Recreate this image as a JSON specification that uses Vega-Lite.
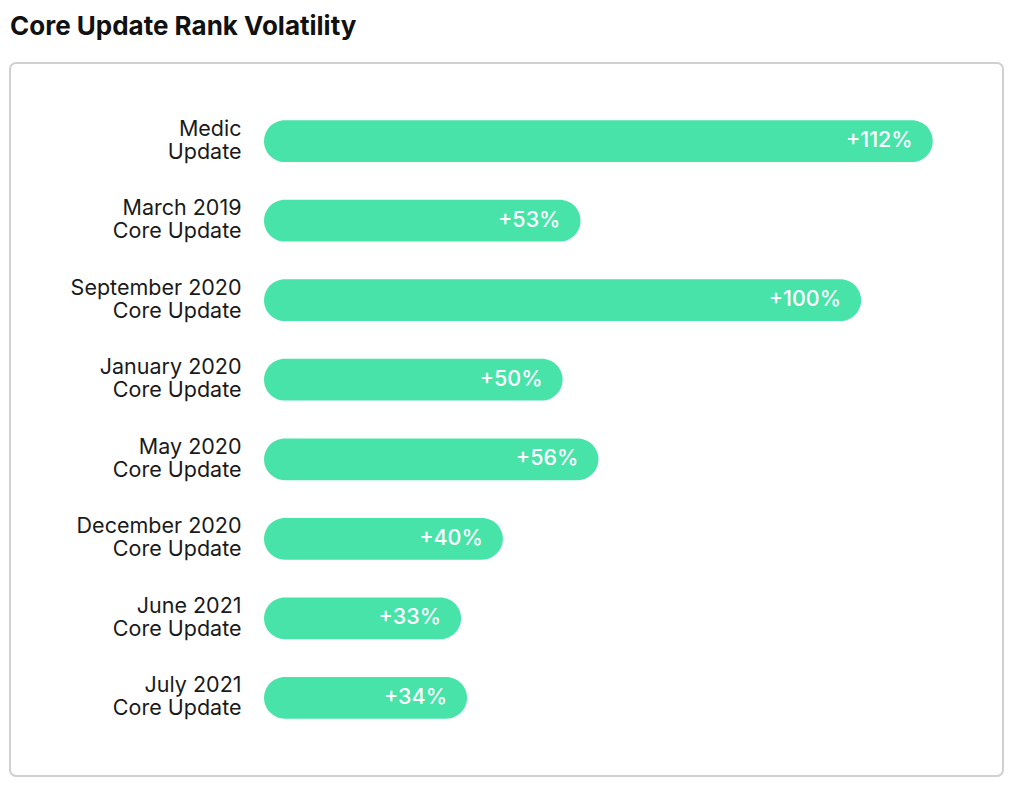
{
  "$schema": "https://vega.github.io/schema/vega-lite/v6.json",
  "autosize": {"type": "none"},
  "width": 993,
  "height": 713,
  "padding": {"left": 10, "top": 63, "right": 21, "bottom": 17},
  "background": "white",
  "title": {
    "text": "Core Update Rank Volatility",
    "anchor": "start",
    "frame": "group",
    "font": "Inter",
    "fontSize": 26,
    "fontWeight": "bold",
    "color": "#111111",
    "offset": 23
  },
  "config": {
    "view": {"stroke": "#d0d0d0", "strokeWidth": 2, "cornerRadius": 6, "fill": "white"},
    "font": "Inter"
  },
  "data": {
    "values": [
      {"update": "Medic|Update", "value": 112},
      {"update": "March 2019|Core Update", "value": 53},
      {"update": "September 2020|Core Update", "value": 100},
      {"update": "January 2020|Core Update", "value": 50},
      {"update": "May 2020|Core Update", "value": 56},
      {"update": "December 2020|Core Update", "value": 40},
      {"update": "June 2021|Core Update", "value": 33},
      {"update": "July 2021|Core Update", "value": 34}
    ]
  },
  "encoding": {
    "y": {
      "field": "update",
      "type": "nominal",
      "sort": null,
      "scale": {"paddingInner": 0.475, "paddingOuter": 0.72},
      "axis": {
        "title": null,
        "domain": false,
        "ticks": false,
        "offset": -254,
        "labelPadding": 23,
        "labelFont": "Inter",
        "labelFontSize": 21.5,
        "labelColor": "#1a1a1a",
        "labelLineHeight": 23,
        "labelOffset": -11.5,
        "labelExpr": "split(datum.label, '|')"
      }
    }
  },
  "layer": [
    {
      "mark": {"type": "bar", "color": "#47E3A9", "cornerRadiusEnd": 21},
      "encoding": {
        "x": {
          "field": "value",
          "type": "quantitative",
          "scale": {"domain": [-42.55, 123.77], "nice": false, "zero": false},
          "axis": null
        },
        "x2": {"datum": 0}
      }
    },
    {
      "mark": {"type": "text", "align": "right", "baseline": "middle", "dx": -20, "color": "white", "font": "Inter", "fontSize": 21.5, "fontWeight": 500},
      "encoding": {
        "x": {"field": "value", "type": "quantitative"},
        "text": {"value": {"expr": "'+' + datum.value + '%'"}}
      }
    }
  ]
}
